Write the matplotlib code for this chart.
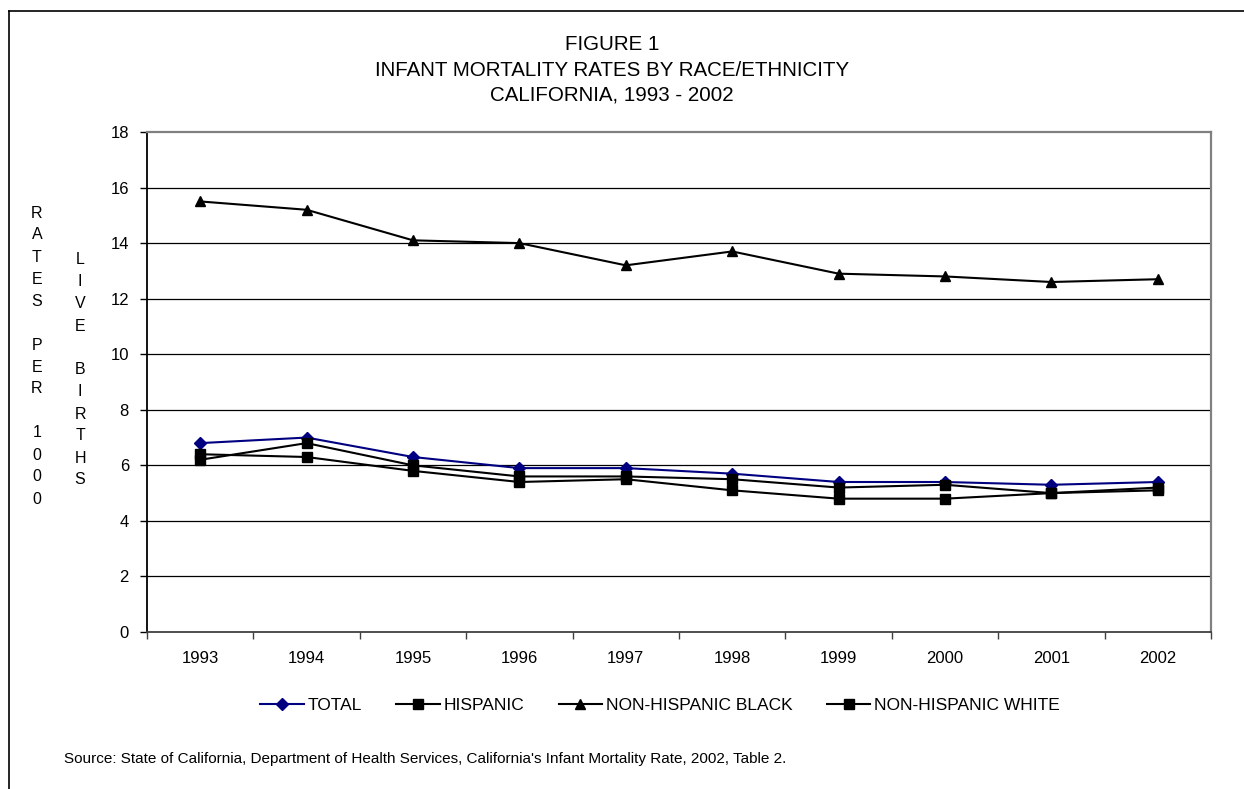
import matplotlib
matplotlib.use("Agg")
import matplotlib.pyplot as plt
from matplotlib.lines import Line2D
import numpy as np

plt.rcParams['font.family'] = ['Liberation Sans', 'DejaVu Sans']

years = ['1993', '1994', '1995', '1996', '1997', '1998', '1999', '2000', '2001', '2002']
total = [6.8, 7.0, 6.3, 5.9, 5.9, 5.7, 5.4, 5.4, 5.3, 5.4]
hispanic = [6.2, 6.8, 6.0, 5.6, 5.6, 5.5, 5.2, 5.3, 5.0, 5.2]
nh_black = [15.5, 15.2, 14.1, 14.0, 13.2, 13.7, 12.9, 12.8, 12.6, 12.7]
nh_white = [6.4, 6.3, 5.8, 5.4, 5.5, 5.1, 4.8, 4.8, 5.0, 5.1]
y_ticks = [0, 2, 4, 6, 8, 10, 12, 14, 16, 18]

W, H = 1244, 789
fig = plt.figure(figsize=(W / 100, H / 100), dpi=100)
ax = fig.add_axes([147 / W, 1 - 632 / H, (1211 - 147) / W, (632 - 132) / H])

x = np.arange(len(years))
ax.plot(x, total, color='#000080', lw=1.5, marker='D', ms=6.5, label='TOTAL')
ax.plot(x, hispanic, color='black', lw=1.5, marker='s', ms=7.2, label='HISPANIC')
ax.plot(x, nh_black, color='black', lw=1.5, marker='^', ms=7.5, label='NON-HISPANIC BLACK')
ax.plot(x, nh_white, color='black', lw=1.5, marker='s', ms=7.2, label='NON-HISPANIC WHITE')

ax.set_xlim(-0.5, len(years) - 0.5)
ax.set_ylim(0, 18)
ax.set_yticks(y_ticks)
ax.set_yticklabels([str(v) for v in y_ticks], fontsize=12)
ax.set_xticks(x)
ax.set_xticklabels(years, fontsize=12)
ax.set_xticks(np.arange(-0.5, len(years), 1.0), minor=True)
ax.tick_params(axis='x', which='major', length=0, pad=14)
ax.tick_params(axis='x', which='minor', length=5, width=1, color='#404040', direction='out')
ax.tick_params(axis='y', length=5, width=1, direction='out', pad=8)

for v in y_ticks[1:-1]:
    ax.axhline(v, color='black', lw=0.9, zorder=0)

ax.spines['left'].set_color('black')
ax.spines['left'].set_linewidth(1.3)
ax.spines['bottom'].set_color('#404040')
ax.spines['bottom'].set_linewidth(1.3)
ax.spines['top'].set_color('#808080')
ax.spines['top'].set_linewidth(1.6)
ax.spines['right'].set_color('#808080')
ax.spines['right'].set_linewidth(1.6)

# title
fig.text(612 / W, 1 - 45 / H, 'FIGURE 1', ha='center', va='center', fontsize=14.8)
fig.text(612 / W, 1 - 70 / H, 'INFANT MORTALITY RATES BY RACE/ETHNICITY', ha='center', va='center', fontsize=14.8)
fig.text(612 / W, 1 - 95 / H, 'CALIFORNIA, 1993 - 2002', ha='center', va='center', fontsize=14.8)

# vertical stacked y-axis labels
col1 = 'RATES PER 1000'
col2 = 'LIVE BIRTHS'
for i, ch in enumerate(col1):
    fig.text(37 / W, 1 - (213 + 22 * i) / H, ch, ha='center', va='center', fontsize=11.5)
for i, ch in enumerate(col2):
    fig.text(80 / W, 1 - (260 + 22 * i) / H, ch, ha='center', va='center', fontsize=11.5)

handles, labels = ax.get_legend_handles_labels()
fig.legend(handles, labels, loc='center', bbox_to_anchor=(660 / W, 1 - 705 / H), ncol=4,
           frameon=False, fontsize=12.5, handlelength=2.5, handletextpad=0.2, columnspacing=2.0)

fig.text(64 / W, 1 - 759 / H,
         "Source: State of California, Department of Health Services, California's Infant Mortality Rate, 2002, Table 2.",
         ha='left', va='center', fontsize=11)

# outer border (left and top edges visible)
fig.add_artist(Line2D([9 / W, 9 / W], [0, 1 - 11 / H], color='black', lw=1.2, transform=fig.transFigure))
fig.add_artist(Line2D([9 / W, 1], [1 - 11 / H, 1 - 11 / H], color='black', lw=1.2, transform=fig.transFigure))

fig.savefig('out.png', dpi=100)
